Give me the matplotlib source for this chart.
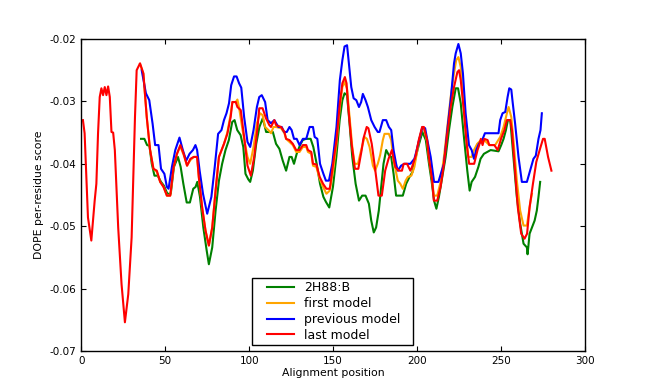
import matplotlib
matplotlib.use("Agg")
import matplotlib.pyplot as plt
from matplotlib.legend_handler import HandlerLine2D
from matplotlib.lines import Line2D

# DOPE per-residue profiles
pos_template = [35.6, 37.6, 39.2, 40.6, 42, 43.6, 45.5, 47.5, 49.2, 51.3, 53.3, 55.2, 57.6, 59.2,
                60.8, 62.8, 64.7, 66.7, 68.1, 69.1, 70.7, 72.7, 74.7, 76, 78, 80, 82, 83.9, 85.9,
                87.9, 89.9, 91.3, 92.9, 94.9, 96.5, 97.8, 99.5, 100.6, 102.2, 104.2, 106.1, 108.1,
                110.1, 114.1, 116, 118, 120, 122, 124, 125.3, 126.7, 128.3, 130.3, 131.9, 133.8,
                136.6, 138.2, 140.2, 142.2, 144.2, 145.7, 147.7, 149.9, 151.9, 153.9, 155.5, 156.8,
                158.3, 159.8, 161.4, 163.4, 165.4, 167.3, 169.3, 171.3, 172.7, 174.2, 175.6, 177.2,
                178.6, 180, 181.6, 183.2, 184.6, 186, 187.5, 191.5, 193.5, 195.5, 197.3, 199.2,
                201.2, 203.2, 205.2, 207.1, 208.7, 210.1, 211.5, 213, 215, 217, 219, 221, 223,
                224.4, 226, 227.9, 229.9, 231.3, 232.5, 234.5, 236.5, 237.8, 239.8, 241.8, 243.8,
                248.5, 250.1, 251.5, 252.9, 254.1, 255.5, 257.4, 259.4, 261.4, 263.4, 265.4, 265.8,
                267, 268.4, 270, 271.3, 272.3, 273.3]
dope_template = [-0.0360, -0.0360, -0.0370, -0.0371, -0.0400, -0.0419, -0.0419, -0.0429, -0.0435,
                 -0.0448, -0.0448, -0.0405, -0.0389, -0.0405, -0.0432, -0.0462, -0.0462, -0.0440,
                 -0.0437, -0.0429, -0.0453, -0.0502, -0.0539, -0.0561, -0.0534, -0.0475, -0.0427,
                 -0.0400, -0.0378, -0.0362, -0.0333, -0.0330, -0.0346, -0.0354, -0.0373, -0.0416,
                 -0.0425, -0.0429, -0.0411, -0.0368, -0.0341, -0.0327, -0.0349, -0.0349, -0.0368,
                 -0.0376, -0.0395, -0.0411, -0.0389, -0.0389, -0.0400, -0.0384, -0.0370, -0.0362,
                 -0.0360, -0.0360, -0.0373, -0.0400, -0.0432, -0.0453, -0.0461, -0.0470, -0.0437,
                 -0.0389, -0.0330, -0.0298, -0.0287, -0.0290, -0.0336, -0.0389, -0.0432, -0.0459,
                 -0.0451, -0.0451, -0.0464, -0.0491, -0.0510, -0.0502, -0.0475, -0.0437, -0.0400,
                 -0.0378, -0.0386, -0.0389, -0.0416, -0.0451, -0.0451, -0.0432, -0.0421, -0.0413,
                 -0.0389, -0.0368, -0.0349, -0.0362, -0.0400, -0.0429, -0.0459, -0.0472, -0.0453,
                 -0.0421, -0.0389, -0.0346, -0.0309, -0.0279, -0.0279, -0.0303, -0.0357, -0.0411,
                 -0.0443, -0.0429, -0.0421, -0.0405, -0.0392, -0.0384, -0.0381, -0.0378, -0.0380,
                 -0.0370, -0.0360, -0.0346, -0.0330, -0.0330, -0.0389, -0.0453, -0.0496, -0.0528,
                 -0.0534, -0.0545, -0.0512, -0.0502, -0.0491, -0.0475, -0.0453, -0.0429]

pos_first = [35, 37, 39, 41, 43, 45, 47, 49, 51, 53, 55, 57, 59, 61, 63, 65, 67, 69, 70, 72, 74,
             76, 78, 80, 82, 85, 87, 89, 90, 92, 93, 94, 96, 98, 99, 100.6, 102.6, 104.6, 106.5,
             108, 109.5, 111.5, 113, 114.5, 116, 119, 121, 122, 124, 126, 128, 130, 132, 134, 135,
             137, 138, 140, 142, 144, 146, 148, 150, 152, 154, 155.5, 156.8, 158.3, 159.8, 161.4,
             162.8, 164.8, 166.7, 168.7, 170.1, 171.7, 173.7, 175, 176.6, 178, 179.6, 180.6, 183.2,
             184.6, 186, 187.3, 188.5, 190, 191.5, 193.2, 194.5, 196.6, 198.4, 201, 203, 204, 206,
             207, 209, 210, 212, 214, 216, 218, 220, 222, 223.3, 224.6, 226, 227.3, 228.9, 230.5,
             232.5, 233.9, 235.8, 238, 240, 243, 246.5, 249.5, 251.5, 253.5, 254.5, 256.1, 257.4,
             259.4, 261.4, 263.4, 265.4, 267.3, 268.4]
dope_first = [-0.0240, -0.0256, -0.0325, -0.0378, -0.0408, -0.0413, -0.0429, -0.0437, -0.0451,
              -0.0451, -0.0405, -0.0384, -0.0372, -0.0386, -0.0403, -0.0394, -0.0389, -0.0389,
              -0.0421, -0.0470, -0.0507, -0.0531, -0.0502, -0.0443, -0.0389, -0.0368, -0.0350,
              -0.0320, -0.0301, -0.0301, -0.0297, -0.0310, -0.0345, -0.0375, -0.0389, -0.0400,
              -0.0373, -0.0335, -0.0319, -0.0322, -0.0341, -0.0346, -0.0351, -0.0341, -0.0341,
              -0.0343, -0.0351, -0.0360, -0.0365, -0.0370, -0.0381, -0.0381, -0.0373, -0.0373,
              -0.0381, -0.0384, -0.0403, -0.0405, -0.0424, -0.0437, -0.0448, -0.0443, -0.0411,
              -0.0368, -0.0309, -0.0277, -0.0269, -0.0280, -0.0325, -0.0373, -0.0400, -0.0400,
              -0.0378, -0.0357, -0.0360, -0.0373, -0.0403, -0.0411, -0.0400, -0.0386, -0.0362,
              -0.0352, -0.0352, -0.0362, -0.0395, -0.0411, -0.0427, -0.0432, -0.0440, -0.0427,
              -0.0421, -0.0419, -0.0405, -0.0365, -0.0343, -0.0343, -0.0365, -0.0389, -0.0427,
              -0.0451, -0.0451, -0.0429, -0.0389, -0.0341, -0.0293, -0.0255, -0.0234, -0.0229,
              -0.0245, -0.0293, -0.0346, -0.0389, -0.0389, -0.0378, -0.0368, -0.0362, -0.0362,
              -0.0370, -0.0370, -0.0357, -0.0341, -0.0319, -0.0309, -0.0325, -0.0362, -0.0427,
              -0.0475, -0.0499, -0.0499, -0.0464, -0.0448]

pos_previous = [36, 37, 38.5, 40.5, 42.5, 44, 46, 47.5, 49.5, 51, 52, 54, 56, 58.5, 60.5, 62.5,
                64.5, 66.5, 68, 69, 70.5, 72.5, 75, 77.5, 79.5, 81.5, 83.5, 85, 86.5, 88, 89.3, 91,
                92.5, 94, 95.3, 97, 99, 100.6, 102.6, 104.6, 106, 107.5, 109.5, 111, 113, 115,
                117.4, 119.4, 120.8, 122.4, 124, 125.3, 126.7, 128.3, 130, 132, 134, 136, 138, 139,
                140.6, 142.2, 144.2, 145.7, 147.5, 149.5, 152, 154, 155.5, 156.8, 158.3, 159.4,
                160.8, 162.2, 163.8, 165.4, 166.7, 167.7, 169.3, 170.7, 172.7, 174.7, 176.6, 177.6,
                179.6, 181.6, 183.2, 184.6, 186, 187.5, 188.5, 190.5, 192.5, 196, 198.4, 199.2,
                201.2, 203.2, 204.8, 206.1, 208.1, 210.1, 212.7, 214.7, 216, 218, 220, 222, 223,
                224.6, 226, 227.3, 228.9, 230.9, 232.5, 233.9, 235.2, 236.8, 238.8, 240.4, 248.5,
                249.5, 250.9, 252.5, 253.9, 254.9, 256.1, 256.9, 258.4, 260.4, 262.4, 265.4, 267.3,
                269.3, 270.7, 272.3, 273.5, 274.3]
dope_previous = [-0.0250, -0.0265, -0.0287, -0.0298, -0.0336, -0.0370, -0.0370, -0.0408, -0.0416,
                 -0.0437, -0.0440, -0.0405, -0.0378, -0.0358, -0.0378, -0.0395, -0.0384, -0.0378,
                 -0.0370, -0.0378, -0.0411, -0.0448, -0.0480, -0.0453, -0.0405, -0.0352, -0.0346,
                 -0.0330, -0.0319, -0.0303, -0.0274, -0.0260, -0.0260, -0.0271, -0.0278, -0.0325,
                 -0.0365, -0.0373, -0.0346, -0.0309, -0.0293, -0.0290, -0.0301, -0.0330, -0.0335,
                 -0.0330, -0.0341, -0.0341, -0.0349, -0.0349, -0.0341, -0.0346, -0.0360, -0.0360,
                 -0.0370, -0.0360, -0.0360, -0.0341, -0.0341, -0.0357, -0.0360, -0.0400, -0.0416,
                 -0.0427, -0.0427, -0.0400, -0.0341, -0.0266, -0.0234, -0.0212, -0.0210, -0.0239,
                 -0.0277, -0.0295, -0.0298, -0.0309, -0.0301, -0.0288, -0.0298, -0.0309, -0.0330,
                 -0.0341, -0.0349, -0.0349, -0.0330, -0.0330, -0.0341, -0.0346, -0.0378, -0.0400,
                 -0.0411, -0.0403, -0.0400, -0.0400, -0.0392, -0.0384, -0.0362, -0.0341, -0.0343,
                 -0.0362, -0.0389, -0.0429, -0.0429, -0.0411, -0.0400, -0.0346, -0.0298, -0.0239,
                 -0.0223, -0.0208, -0.0223, -0.0255, -0.0319, -0.0370, -0.0378, -0.0392, -0.0378,
                 -0.0368, -0.0362, -0.0351, -0.0351, -0.0330, -0.0319, -0.0317, -0.0293, -0.0279,
                 -0.0281, -0.0301, -0.0336, -0.0389, -0.0429, -0.0429, -0.0411, -0.0392, -0.0387,
                 -0.0360, -0.0346, -0.0319]

pos_last = [1, 2, 4, 6, 8, 9, 10, 11, 12, 13, 14, 15, 16, 17, 18, 19, 20, 22, 24, 26, 28, 30, 32,
            33, 35, 37, 39, 41, 43, 45, 47, 49, 51, 53, 55, 57, 59, 61, 63, 65, 67, 69, 70, 72, 74,
            76, 78, 80, 82, 85, 87, 89, 90, 92, 93, 95, 97, 99, 101, 103, 105, 106, 108, 110, 112,
            113, 115, 116, 119, 121, 122, 124, 126, 128, 130, 132, 134, 135, 137, 138, 140, 142,
            144, 146, 148, 150, 152, 154, 155.5, 157, 158, 159, 161, 163, 165, 167, 168, 170, 171,
            173, 175, 177, 179, 181, 183, 185, 187, 189, 191, 192, 194, 196, 197, 199, 201, 203,
            204, 206, 207, 209, 210, 212, 214, 216, 218, 220, 222, 224, 225, 226, 228, 229.5, 231,
            234, 236, 237, 238, 239, 240, 242, 243, 246, 248, 250, 252, 253.5, 255.5, 256.5, 258,
            260, 262, 264, 265.5, 267, 269, 271, 273, 275, 276, 278, 280]
dope_last = [-0.0330, -0.0351, -0.0486, -0.0523, -0.0459, -0.0432, -0.0351, -0.0293, -0.0279,
             -0.0290, -0.0277, -0.0290, -0.0276, -0.0293, -0.0349, -0.0350, -0.0378, -0.0502,
             -0.0593, -0.0654, -0.0609, -0.0518, -0.0325, -0.0250, -0.0239, -0.0255, -0.0325,
             -0.0378, -0.0408, -0.0411, -0.0429, -0.0437, -0.0451, -0.0451, -0.0405, -0.0384,
             -0.0370, -0.0384, -0.0403, -0.0392, -0.0389, -0.0389, -0.0421, -0.0470, -0.0507,
             -0.0531, -0.0502, -0.0443, -0.0389, -0.0368, -0.0352, -0.0325, -0.0301, -0.0301,
             -0.0309, -0.0314, -0.0357, -0.0403, -0.0419, -0.0389, -0.0341, -0.0311, -0.0311,
             -0.0327, -0.0338, -0.0341, -0.0330, -0.0338, -0.0341, -0.0349, -0.0360, -0.0362,
             -0.0368, -0.0378, -0.0378, -0.0370, -0.0370, -0.0378, -0.0381, -0.0400, -0.0401,
             -0.0421, -0.0432, -0.0440, -0.0440, -0.0400, -0.0362, -0.0303, -0.0271, -0.0261,
             -0.0271, -0.0309, -0.0368, -0.0408, -0.0408, -0.0378, -0.0360, -0.0341, -0.0343,
             -0.0368, -0.0408, -0.0451, -0.0451, -0.0411, -0.0392, -0.0378, -0.0405, -0.0411,
             -0.0411, -0.0400, -0.0400, -0.0411, -0.0405, -0.0389, -0.0362, -0.0341, -0.0341,
             -0.0362, -0.0389, -0.0427, -0.0459, -0.0459, -0.0437, -0.0400, -0.0352, -0.0309,
             -0.0277, -0.0253, -0.0250, -0.0266, -0.0319, -0.0368, -0.0400, -0.0400, -0.0378,
             -0.0370, -0.0360, -0.0370, -0.0360, -0.0362, -0.0370, -0.0370, -0.0378, -0.0360,
             -0.0346, -0.0330, -0.0330, -0.0346, -0.0400, -0.0470, -0.0512, -0.0520, -0.0512,
             -0.0470, -0.0432, -0.0397, -0.0378, -0.0360, -0.0360, -0.0389, -0.0411]

series = [
    ("2H88:B", pos_template, dope_template, "green"),
    ("first model", pos_first, dope_first, "orange"),
    ("previous model", pos_previous, dope_previous, "blue"),
    ("last model", pos_last, dope_last, "red"),
]

plt.rcParams["axes.unicode_minus"] = False
plt.rcParams["font.family"] = "DejaVu Sans"

fig, ax = plt.subplots(figsize=(6.5, 3.9), dpi=100)
fig.subplots_adjust(left=0.125, right=0.9, bottom=0.1, top=0.9)

for label, xs, ys, color in series:
    ax.plot(xs, ys, color=color, lw=1.5, label=label)

ax.set_xlim(0, 300)
ax.set_ylim(-0.07, -0.02)
ax.set_xticks(range(0, 301, 50))
ax.set_yticks([-0.07, -0.06, -0.05, -0.04, -0.03, -0.02])
ax.tick_params(direction="in", top=True, right=True, length=3.5, labelsize=7.5)
ax.set_xlabel("Alignment position", fontsize=7.8, labelpad=1.5)
ax.set_ylabel("DOPE per-residue score", fontsize=7.8)
for s in ax.spines.values():
    s.set_linewidth(1.0)

leg = ax.legend(loc="lower left", bbox_to_anchor=(0.3386, 0.0193, 0.319, 0.3), mode="expand",
                borderaxespad=0, fontsize=9, fancybox=False, edgecolor="black",
                framealpha=1, borderpad=0.25, labelspacing=0.23,
                handlelength=4.1, handletextpad=-0.18,
                handler_map={Line2D: HandlerLine2D(marker_pad=0.98, numpoints=2)})
leg.get_frame().set_linewidth(1.0)

fig.savefig("out.png", dpi=100)
